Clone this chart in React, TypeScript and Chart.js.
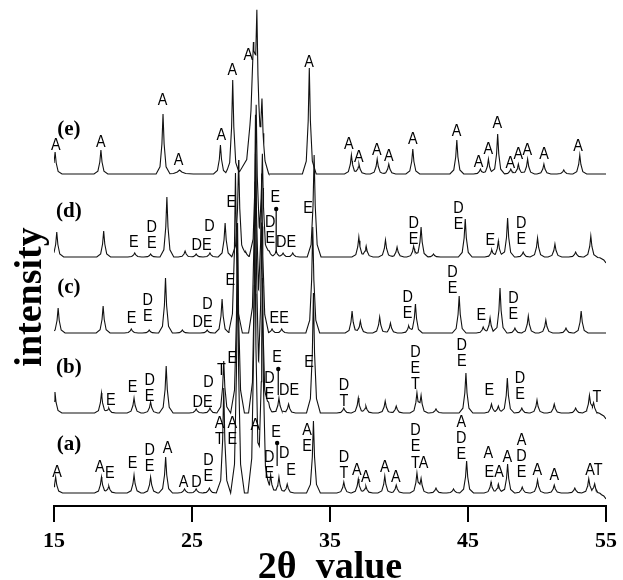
import React, { useEffect, useRef } from "react";
import { Chart, registerables } from "chart.js";
Chart.register(...registerables);

type Peak = [number, number, number?]; // position (2θ), height, width factor
type Label = [number, number, string]; // 2θ, height, text (\n = stacked)
type Arrow = [number, number, number]; // 2θ, top, bottom

const X_MIN = 15;
const X_MAX = 55;
const xTickStep = 10;

const traceNames = ["(a)", "(b)", "(c)", "(d)", "(e)"];
const baselines = [13, 93, 173, 249, 332];
const nameHeights = [61, 138, 218, 294, 376];

const peaksA: Peak[] = [
  [15.12, 16], [18.44, 16], [18.97, 7], [20.8, 18], [22.0, 16], [23.09, 36], [24.46, 4], [25.3, 4],
  [26.26, 5], [27.3, 105], [28.3, 240], [29.55, 290], [30.1, 215], [30.7, 18], [31.3, 16],
  [31.9, 9], [33.8, 72], [36.0, 11], [37.05, 14], [37.6, 7], [38.97, 17], [39.8, 8], [41.3, 19],
  [41.6, 13], [42.68, 5], [43.95, 4], [44.9, 32], [46.67, 11], [47.2, 9], [47.87, 29], [48.93, 6],
  [50.04, 13], [51.25, 8], [52.74, 5], [53.75, 14], [54.18, 9], [55, -6, 2],
];
const peaksB: Peak[] = [
  [15.07, 21], [18.44, 20], [18.97, 5], [20.8, 15], [22.0, 11], [23.13, 47], [25.3, 4], [26.3, 5],
  [27.3, 52], [28.3, 190], [29.6, 255], [30.05, 185], [30.55, 11], [31.3, 15], [32.0, 9],
  [33.8, 120], [36.0, 5], [37.05, 15], [37.6, 7], [39.0, 12], [39.8, 7], [41.3, 19], [41.6, 16],
  [42.68, 4], [44.85, 40], [46.7, 9], [47.2, 7], [47.85, 35], [48.9, 5], [50.0, 13], [51.25, 9],
  [52.8, 5], [53.8, 17], [54.1, 9], [55, -6, 2],
];
const peaksC: Peak[] = [
  [15.3, 25], [18.56, 27], [20.6, 4], [21.9, 3], [23.08, 55], [24.3, 3], [26.1, 3], [27.18, 34],
  [28.15, 160], [29.6, 215], [30.05, 155], [30.8, 4], [31.5, 4], [33.75, 106], [36.6, 22],
  [37.2, 12], [38.6, 16], [39.38, 10], [40.7, 7], [41.19, 29], [44.36, 37], [46.1, 6], [46.6, 15],
  [47.32, 45], [48.4, 5], [49.37, 17], [50.64, 13], [52.1, 5], [53.2, 22],
];
const peaksD: Peak[] = [
  [15.2, 25], [18.6, 26], [20.85, 4], [22.0, 3], [23.18, 60], [24.5, 6], [25.3, 3], [26.3, 4],
  [27.4, 34], [28.38, 97], [28.9, 5], [29.65, 150], [30.1, 100], [30.6, 6], [31.1, 6],
  [31.6, 4], [32.3, 4], [33.85, 102], [37.09, 20], [37.62, 11], [39.02, 17], [39.86, 10],
  [41.06, 11], [41.6, 30], [42.5, 3], [44.8, 38], [46.72, 7], [47.2, 16], [47.87, 39], [49.0, 5],
  [50.04, 19], [51.3, 13], [52.8, 5], [53.9, 21], [55, -6, 2],
];
const peaksE: Peak[] = [
  [15.08, 22], [18.4, 24], [22.9, 60], [24.1, 4, 2], [27.06, 29], [27.95, 94], [29.45, 120, 2.2],
  [29.7, 112], [30.07, 58], [33.5, 106], [36.55, 19], [37.1, 10], [38.42, 15], [39.26, 10],
  [41.0, 25], [44.19, 34], [45.9, 5], [46.48, 15], [47.15, 40], [48.1, 5], [48.65, 10],
  [49.32, 15], [50.5, 10], [51.94, 4], [53.1, 19],
];

const labelsA: Label[] = [
  [15.22, 34, "A"], [18.32, 39, "A"], [19.04, 33, "E"], [20.7, 43, "E"], [21.93, 56, "D\nE"],
  [23.23, 58, "A"], [24.39, 24, "A"], [25.32, 24, "D"], [26.19, 46, "D\nE"], [26.99, 83, "A\nT"],
  [27.92, 83, "A\nE"], [29.58, 81, "A"], [31.1, 74, "E"], [30.6, 49, "D\nE"], [31.68, 53, "D"],
  [32.18, 36, "E"], [33.34, 76, "A\nE"], [36.01, 49, "D\nT"], [36.95, 36, "A"], [37.6, 29, "A"],
  [38.97, 39, "A"], [39.77, 29, "A"], [41.2, 76, "D\nE"], [41.5, 43, "TA"], [44.51, 84, "A\nD\nE"],
  [46.48, 53, "A"], [46.9, 34, "EA"], [47.85, 49, "A"], [48.88, 66, "A\nD\nE"], [50.02, 36, "A"],
  [51.25, 31, "A"], [54.13, 36, "AT"],
];
const labelsB: Label[] = [
  [19.12, 106, "E"], [20.7, 119, "E"], [21.93, 126, "D\nE"], [25.76, 104, "DE"], [26.19, 124, "D"],
  [27.13, 136, "T"], [27.92, 148, "E"], [31.17, 149, "E"], [30.62, 128, "D\nE"], [32.04, 116, "DE"],
  [33.48, 144, "E"], [36.01, 121, "D\nT"], [41.19, 154, "D\nE\nT"], [44.55, 161, "D\nE"],
  [46.55, 116, "E"], [48.77, 128, "D\nE"], [54.35, 109, "T"],
];
const labelsC: Label[] = [
  [20.63, 188, "E"], [21.79, 206, "D\nE"], [25.76, 184, "DE"], [26.12, 202, "D"], [27.78, 226, "E"],
  [31.32, 188, "EE"], [40.63, 209, "D\nE"], [43.88, 234, "D\nE"], [45.97, 191, "E"], [48.29, 208, "D\nE"],
];
const labelsD: Label[] = [
  [20.78, 264, "E"], [22.08, 279, "D\nE"], [25.69, 261, "DE"], [26.26, 280, "D"], [27.85, 304, "E"],
  [31.03, 309, "E"], [30.67, 284, "D\nE"], [31.82, 264, "DE"], [33.41, 298, "E"], [41.06, 283, "D\nE"],
  [44.31, 298, "D\nE"], [46.62, 266, "E"], [48.86, 283, "D\nE"],
];
const labelsE: Label[] = [
  [15.14, 361, "A"], [18.39, 364, "A"], [22.87, 406, "A"], [24.03, 346, "A"], [27.13, 371, "A"],
  [27.92, 436, "A"], [29.08, 451, "A"], [33.48, 444, "A"], [36.37, 362, "A"], [37.09, 349, "A"],
  [38.39, 356, "A"], [39.26, 350, "A"], [41.0, 367, "A"], [44.17, 375, "A"], [45.76, 344, "A"],
  [46.48, 357, "A"], [47.13, 383, "A"], [48.07, 343, "A"], [48.65, 352, "A"], [49.3, 356, "A"],
  [50.52, 352, "A"], [52.98, 360, "A"],
];
const arrows: Arrow[] = [
  [31.17, 63, 40],
  [31.25, 137, 111],
  [31.1, 297, 253],
];

const allPeaks = [peaksA, peaksB, peaksC, peaksD, peaksE];
const allLabels = [labelsA, labelsB, labelsC, labelsD, labelsE];

const profOff = [-0.5, -0.22, -0.08, 0, 0.08, 0.22, 0.5];
const profFr = [0, 0.12, 0.5, 1, 0.5, 0.12, 0];

function buildTrace(base: number, peaks: Peak[]) {
  const xs = new Set<number>([X_MIN, X_MAX]);
  peaks.forEach(([p, , w = 1]) =>
    profOff.forEach((o) => {
      const v = p + o * (w as number);
      if (v >= X_MIN && v <= X_MAX) xs.add(+v.toFixed(4));
    })
  );
  const sorted = Array.from(xs).sort((a, b) => a - b);
  return sorted.map((xv) => {
    let yv = base;
    peaks.forEach(([p, h, w = 1]) => {
      const d = (xv - p) / (w as number);
      for (let i = 0; i < profOff.length - 1; i++) {
        if (d >= profOff[i] && d <= profOff[i + 1]) {
          const t = (d - profOff[i]) / (profOff[i + 1] - profOff[i]);
          yv += h * (profFr[i] + (profFr[i + 1] - profFr[i]) * t);
          break;
        }
      }
    });
    return { x: xv, y: yv };
  });
}

const SERIF = '"Liberation Serif", "Times New Roman", serif';
const SANS = '"Liberation Sans", Arial, sans-serif';

const textPlugin = {
  id: "xrdText",
  afterDatasetsDraw(chart: any) {
    const { ctx, scales, chartArea } = chart;
    const xs = scales.x;
    const ys = scales.y;
    ctx.save();
    ctx.fillStyle = "#000";
    ctx.strokeStyle = "#000";
    ctx.textAlign = "center";
    ctx.textBaseline = "middle";
    ctx.font = `17px ${SANS}`;
    allLabels.forEach((labels) =>
      labels.forEach(([lx, ly, t]) => {
        const px = xs.getPixelForValue(lx);
        const py = ys.getPixelForValue(ly);
        t.split("\n").forEach((s, i) => {
          ctx.save();
          ctx.translate(px, py + i * 16);
          ctx.scale(0.85, 1);
          ctx.fillText(s, 0, 0);
          ctx.restore();
        });
      })
    );
    ctx.lineWidth = 1.2;
    arrows.forEach(([ax, top, bottom]) => {
      const px = xs.getPixelForValue(ax);
      ctx.beginPath();
      ctx.moveTo(px, ys.getPixelForValue(top));
      ctx.lineTo(px, ys.getPixelForValue(bottom));
      ctx.stroke();
      ctx.beginPath();
      ctx.arc(px, ys.getPixelForValue(top), 2.2, 0, Math.PI * 2);
      ctx.fill();
    });
    ctx.font = `bold 21px ${SERIF}`;
    traceNames.forEach((n, i) => {
      ctx.fillText(n, xs.getPixelForValue(16.08), ys.getPixelForValue(nameHeights[i]));
    });
    ctx.font = `bold 38px ${SERIF}`;
    ctx.textBaseline = "alphabetic";
    ctx.fillText("2\u03b8  value", (chartArea.left + chartArea.right) / 2, 578);
    ctx.save();
    ctx.translate(41, 297);
    ctx.rotate(-Math.PI / 2);
    ctx.fillText("intensity", 0, 0);
    ctx.restore();
    ctx.restore();
  },
};

export default function App() {
  const ref = useRef<HTMLCanvasElement>(null);
  useEffect(() => {
    const datasets = allPeaks.map((pk, i) => ({
      label: traceNames[i],
      data: buildTrace(baselines[i], pk),
      borderColor: "#111",
      borderWidth: 1.1,
      pointRadius: 0,
      tension: 0,
      fill: false,
    }));
    const chart = new Chart(ref.current as HTMLCanvasElement, {
      type: "line",
      data: { datasets },
      options: {
        responsive: false,
        animation: false,
        devicePixelRatio: 1,
        layout: { padding: { left: 54, right: 15, top: 6, bottom: 0 } },
        plugins: { legend: { display: false }, tooltip: { enabled: false } },
        scales: {
          x: {
            type: "linear",
            min: X_MIN,
            max: X_MAX,
            afterFit: (s: any) => {
              s.height = 74;
            },
            ticks: {
              stepSize: xTickStep,
              color: "#000",
              padding: 6,
              maxRotation: 0,
              autoSkip: false,
              font: { family: SERIF, size: 22, weight: "bold" },
            },
            grid: {
              display: true,
              drawOnChartArea: false,
              drawTicks: true,
              tickLength: 16,
              color: "#000",
              lineWidth: 2,
            },
            border: { display: true, color: "#000", width: 2 },
          },
          y: { display: false, min: 0, max: 500 },
        },
      },
      plugins: [textPlugin],
    } as any);
    return () => chart.destroy();
  }, []);
  return (
    <div style={{ position: "absolute", left: 0, top: 0, width: 623, height: 580, background: "#fff" }}>
      <canvas ref={ref} width={623} height={580} style={{ display: "block" }} />
    </div>
  );
}
